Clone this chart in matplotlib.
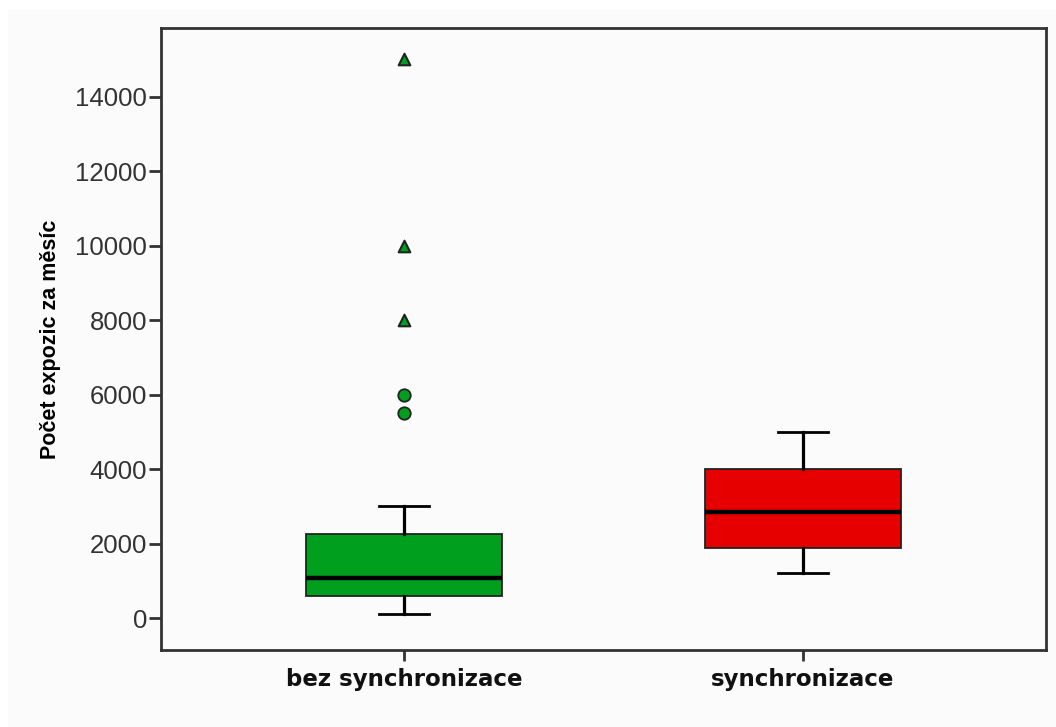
import matplotlib
matplotlib.use('Agg')
import matplotlib.pyplot as plt
from matplotlib.patches import Rectangle

plt.rcParams['font.family'] = ['Liberation Sans', 'DejaVu Sans']

groups = ["bez synchronizace", "synchronizace"]
box_colors = ["#009f1e", "#e60000"]

# box statistics
whislo = [100, 1200]
q1 = [600, 1875]
med = [1080, 2850]
q3 = [2250, 4000]
whishi = [3000, 5000]

# outliers of the first group: circles and extremes (triangles)
circle_vals = [5500, 6000]
extreme_vals = [8000, 10000, 15000]

stats = []
for i in range(len(groups)):
    stats.append({'label': groups[i], 'whislo': whislo[i], 'q1': q1[i], 'med': med[i],
                  'q3': q3[i], 'whishi': whishi[i], 'fliers': []})

fig = plt.figure(figsize=(10.56, 7.27), dpi=100)
fig.patch.set_facecolor('white')
fig.patches.append(Rectangle((8/1056, 0), 1, 1 - 10/727, transform=fig.transFigure,
                             facecolor='#fbfbfb', edgecolor='none', zorder=-10))
ax = fig.add_axes([161/1056, 77/727, 885/1056, 622/727])
ax.set_facecolor('#fbfbfb')

bp = ax.bxp(stats, positions=[1, 2], widths=0.49, patch_artist=True, showfliers=False,
            boxprops=dict(linewidth=1.3, edgecolor='#222222'),
            medianprops=dict(color='black', linewidth=3.2),
            whiskerprops=dict(color='black', linewidth=2.3),
            capprops=dict(color='black', linewidth=2.0), capwidths=0.125)
for patch, c in zip(bp['boxes'], box_colors):
    patch.set_facecolor(c)

ax.scatter([1] * len(circle_vals), circle_vals, marker='o', s=80, facecolor=box_colors[0],
           edgecolor='#222222', linewidth=1.3, zorder=5)
ax.scatter([1] * len(extreme_vals), extreme_vals, marker='^', s=70, facecolor=box_colors[0],
           edgecolor='#222222', linewidth=1.5, zorder=5)

ax.set_xlim(0.391, 2.609)
ax.set_ylim(-859, 15843)
ax.set_yticks(range(0, 14001, 2000))
ax.set_yticklabels([str(v) for v in range(0, 14001, 2000)], fontsize=18.5, color='#333333')
ax.set_xticks([1, 2])
ax.set_xticklabels(groups, fontsize=16.5, fontweight='bold', color='#111111',
                   family='DejaVu Sans')
ax.tick_params(axis='y', length=9, width=2, color='#333333', pad=1)
ax.tick_params(axis='x', length=8, width=2, color='#333333', pad=5)
for s in ax.spines.values():
    s.set_linewidth(2)
    s.set_color('#333333')

ax.set_ylabel("Počet expozic za měsíc", fontsize=15.5, fontweight='bold', labelpad=10)

plt.savefig('out.png', dpi=100, facecolor=fig.get_facecolor())
plt.close()
